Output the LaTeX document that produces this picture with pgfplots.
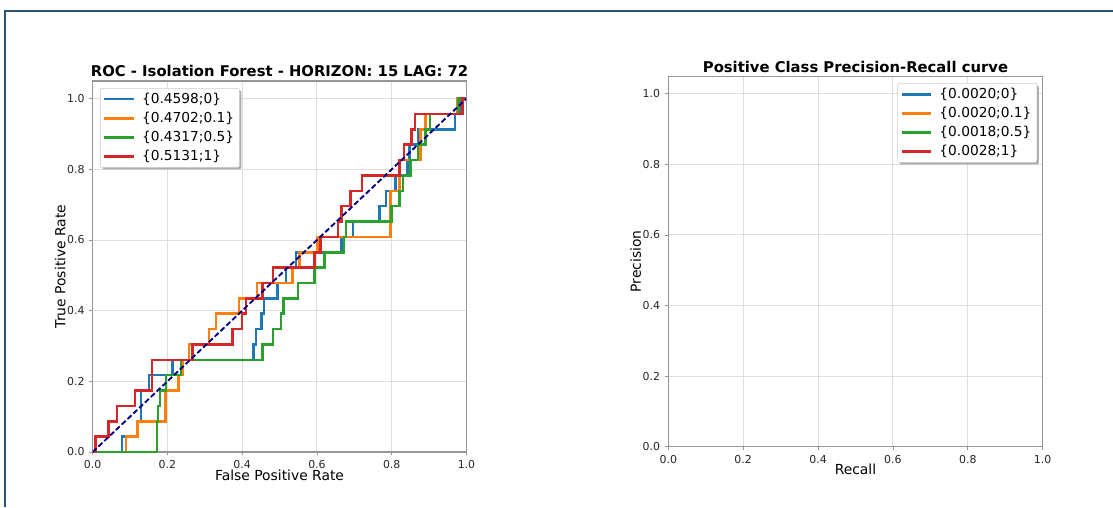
\documentclass[border=0pt]{standalone}
\usepackage{pgfplots}
\pgfplotsset{compat=1.18}
\usepackage{fontspec}
\setmainfont{DejaVu Sans}
\usetikzlibrary{shadows}
\makeatletter
\tikzset{noshadow/.code={\let\tikz@preactions\pgfutil@empty}}
\makeatother
\definecolor{tabblue}{HTML}{1F77B4}
\definecolor{taborange}{HTML}{FF7F0E}
\definecolor{tabgreen}{HTML}{2CA02C}
\definecolor{tabred}{HTML}{D62728}
\definecolor{framecol}{RGB}{46,84,122}
\definecolor{gridcol}{RGB}{222,222,222}
\definecolor{spinecol}{RGB}{150,150,150}
\pgfplotsset{
  mystyle/.style={
    scale only axis, anchor=south west,
    xmin=0, xmax=1, ymin=0, ymax=1.05,
    xtick={0,0.2,0.4,0.6,0.8,1.0},
    ytick={0,0.2,0.4,0.6,0.8,1.0},
    /pgf/number format/fixed,
    /pgf/number format/fixed zerofill,
    /pgf/number format/precision=1,
    /pgf/number format/assume math mode=true,
    ticklabel style={font=\fontsize{8.2}{9.5}\selectfont, text=black!85},
    tick align=outside, xtick pos=bottom, ytick pos=left,
    major tick length=2.6pt,
    tick style={spinecol, line width=0.6pt},
    axis line style={spinecol, line width=0.8pt},
    grid=major, major grid style={gridcol, line width=0.7pt},
    title style={at={(0.5,1)}, anchor=base, yshift=-3pt, font=\bfseries\fontsize{11.1}{13}\selectfont},
    xlabel style={at={([yshift=-21pt]axis description cs:0.5,0)}, anchor=base, font=\fontsize{10.4}{12}\selectfont},
    ylabel style={at={([xshift=-20.5pt]axis description cs:0,0.5)}, anchor=base, rotate=0, font=\fontsize{10.4}{12}\selectfont},
    legend style={font=\fontsize{10.3}{12}\selectfont, draw=black!20, fill=white, rounded corners=1.5pt,
      inner xsep=2pt, inner ysep=1.5pt, row sep=1pt,
      drop shadow={shadow xshift=1.5pt, shadow yshift=-1.5pt, fill=black!40, opacity=0.8},
      /tikz/every odd column/.append style={column sep=3.5pt},
      /tikz/every even column/.append style={column sep=1pt}},
    legend cell align=left,
    legend image code/.code={\draw[noshadow, #1] (0pt,0pt) -- (22pt,0pt);},
  },
  curve/.style={line width=1.9pt, sharp plot}
}
\begin{document}
\begin{tikzpicture}
\useasboundingbox (0,0) rectangle (834.75pt,380.25pt);
\begin{axis}[mystyle, at={(69.5pt,41.25pt)}, width=280.35pt, height=278.25pt,
  title={ROC - Isolation Forest - HORIZON: 15 LAG: 72},
  xlabel={False Positive Rate}, ylabel={True Positive Rate},
  legend style={at={(0.0196,0.981)}, anchor=north west}]
\addplot[curve, tabblue] coordinates {(0,0) (0.079,0) (0.079,0.0435) (0.12,0.0435) (0.12,0.0870) (0.129,0.0870) (0.129,0.1739) (0.151,0.1739) (0.151,0.2174) (0.213,0.2174) (0.213,0.2609) (0.43,0.2609) (0.43,0.3043) (0.437,0.3043) (0.437,0.3478) (0.452,0.3478) (0.452,0.3913) (0.458,0.3913) (0.458,0.4348) (0.495,0.4348) (0.495,0.4783) (0.517,0.4783) (0.517,0.5217) (0.544,0.5217) (0.544,0.5652) (0.665,0.5652) (0.665,0.6087) (0.696,0.6087) (0.696,0.6522) (0.768,0.6522) (0.768,0.6957) (0.785,0.6957) (0.785,0.7391) (0.81,0.7391) (0.81,0.7826) (0.842,0.7826) (0.842,0.8261) (0.847,0.8261) (0.847,0.8696) (0.87,0.8696) (0.87,0.9130) (0.969,0.9130) (0.969,0.9565) (0.985,0.9565) (0.985,1) (1,1)};
\addlegendentry{\{0.4598;0\}}
\addplot[curve, taborange] coordinates {(0,0) (0.089,0) (0.089,0.0435) (0.12,0.0435) (0.12,0.0870) (0.195,0.0870) (0.195,0.1739) (0.229,0.1739) (0.229,0.2174) (0.24,0.2174) (0.24,0.2609) (0.258,0.2609) (0.258,0.3043) (0.311,0.3043) (0.311,0.3478) (0.33,0.3478) (0.33,0.3913) (0.392,0.3913) (0.392,0.4348) (0.44,0.4348) (0.44,0.4783) (0.535,0.4783) (0.535,0.5217) (0.553,0.5217) (0.553,0.5652) (0.602,0.5652) (0.602,0.6087) (0.797,0.6087) (0.797,0.7391) (0.821,0.7391) (0.821,0.8261) (0.877,0.8261) (0.877,0.9130) (0.89,0.9130) (0.89,0.9565) (0.975,0.9565) (0.975,1) (1,1)};
\addlegendentry{\{0.4702;0.1\}}
\addplot[curve, tabgreen] coordinates {(0,0) (0.172,0) (0.172,0.0870) (0.175,0.0870) (0.175,0.1304) (0.18,0.1304) (0.18,0.1739) (0.196,0.1739) (0.196,0.2174) (0.236,0.2174) (0.236,0.2609) (0.455,0.2609) (0.455,0.3043) (0.482,0.3043) (0.482,0.3478) (0.504,0.3478) (0.504,0.3913) (0.511,0.3913) (0.511,0.4348) (0.549,0.4348) (0.549,0.4783) (0.593,0.4783) (0.593,0.5217) (0.62,0.5217) (0.62,0.5652) (0.672,0.5652) (0.672,0.6087) (0.678,0.6087) (0.678,0.6522) (0.8,0.6522) (0.8,0.6957) (0.821,0.6957) (0.821,0.7391) (0.83,0.7391) (0.83,0.7826) (0.85,0.7826) (0.85,0.8261) (0.87,0.8261) (0.87,0.8696) (0.89,0.8696) (0.89,0.9130) (0.902,0.9130) (0.902,0.9565) (0.978,0.9565) (0.978,1) (1,1)};
\addlegendentry{\{0.4317;0.5\}}
\addplot[curve, tabred] coordinates {(0,0) (0.008,0) (0.008,0.0435) (0.043,0.0435) (0.043,0.0870) (0.065,0.0870) (0.065,0.1304) (0.113,0.1304) (0.113,0.1739) (0.159,0.1739) (0.159,0.2609) (0.267,0.2609) (0.267,0.3043) (0.374,0.3043) (0.374,0.3478) (0.40,0.3478) (0.40,0.3913) (0.41,0.3913) (0.41,0.4348) (0.455,0.4348) (0.455,0.4783) (0.482,0.4783) (0.482,0.5217) (0.593,0.5217) (0.593,0.5652) (0.61,0.5652) (0.61,0.6087) (0.656,0.6087) (0.656,0.6522) (0.665,0.6522) (0.665,0.6957) (0.69,0.6957) (0.69,0.7391) (0.72,0.7391) (0.72,0.7826) (0.821,0.7826) (0.821,0.8261) (0.833,0.8261) (0.833,0.8696) (0.853,0.8696) (0.853,0.9130) (0.862,0.9130) (0.862,0.9565) (0.99,0.9565) (0.99,1) (1,1)};
\addlegendentry{\{0.5131;1\}}
\addplot[forget plot, line width=1.4pt, color={rgb,255:red,0;green,0;blue,128}, dash pattern=on 4pt off 2pt] coordinates {(0,0) (1,1)};
\end{axis}
\begin{axis}[mystyle, at={(501.2pt,45.2pt)}, width=280.8pt, height=278pt,
  title={Positive Class Precision-Recall curve},
  xlabel={Recall}, ylabel={Precision},
  legend style={at={(0.985,0.981)}, anchor=north east}]
\addlegendimage{curve, tabblue}
\addlegendentry{\{0.0020;0\}}
\addlegendimage{curve, taborange}
\addlegendentry{\{0.0020;0.1\}}
\addlegendimage{curve, tabgreen}
\addlegendentry{\{0.0018;0.5\}}
\addlegendimage{curve, tabred}
\addlegendentry{\{0.0028;1\}}
\end{axis}
\draw[line width=1.5pt, framecol] (3.75pt,0pt) -- (3.75pt,372pt) -- (834.75pt,372pt);
\end{tikzpicture}
\end{document}
